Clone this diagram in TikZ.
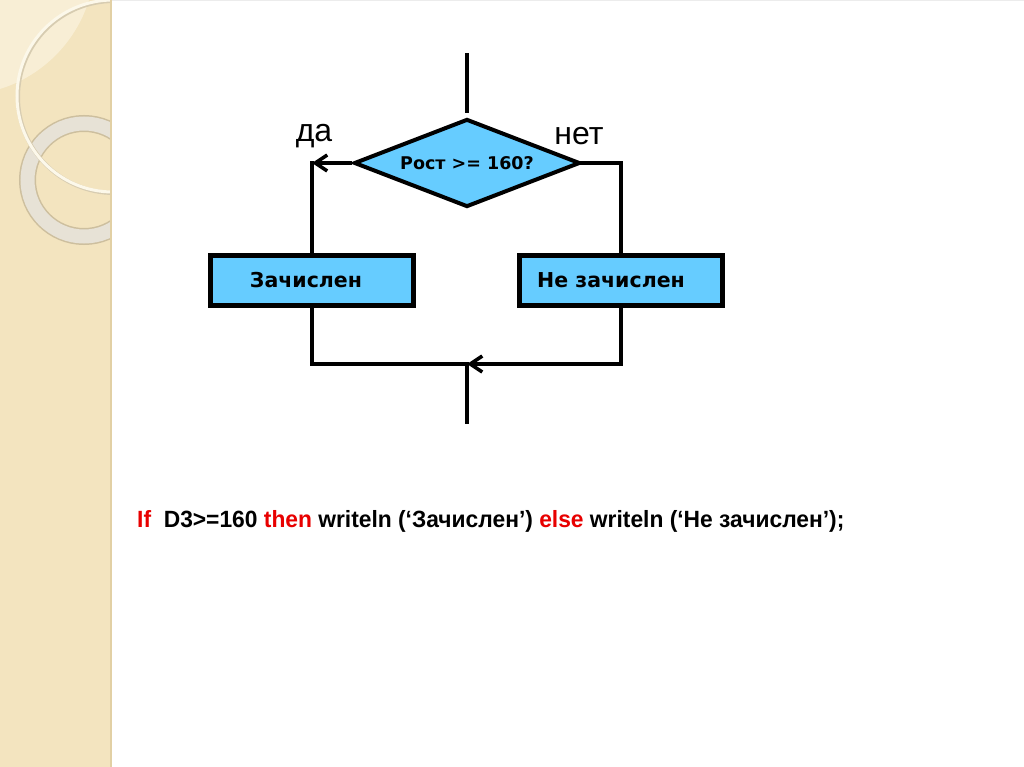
\documentclass[tikz,border=0pt]{standalone}
\usepackage{fontspec}
\setmainfont{Liberation Sans}
\newfontfamily\boxfont{DejaVu Sans}
\newfontfamily\codefont[FakeStretch=0.97]{Liberation Sans}
\usetikzlibrary{shapes.geometric,arrows.meta}
\definecolor{boxblue}{HTML}{66CCFF}
\definecolor{strip}{HTML}{F3E4BF}
\definecolor{stripedge}{HTML}{E2D0A4}
\definecolor{lens}{HTML}{F8EED5}
\definecolor{ringgray}{HTML}{E7E2D6}
\definecolor{ringedge}{HTML}{CDBF9E}
\definecolor{ringwhite}{HTML}{FCF8EA}
\definecolor{kwred}{HTML}{E80000}
\tikzset{
  flowline/.style={line width=3.6pt, line cap=rect},
  flowarrow/.style={line width=3.6pt, -{Straight Barb[length=12pt,width=16pt]}},
  actbox/.style={draw, line width=5pt, fill=boxblue, rectangle, minimum width=203pt, minimum height=50pt,
    font=\boxfont\bfseries\fontsize{20.5}{24}\selectfont},
  condbox/.style={draw, line width=4pt, fill=boxblue, diamond, aspect=2.6, minimum width=226pt, minimum height=88pt,
    inner sep=0pt, font=\boxfont\bfseries\fontsize{17.5}{20}\selectfont},
  yesno/.style={font=\fontsize{32}{36}\selectfont}
}
\begin{document}
\begin{tikzpicture}[x=1pt,y=-1pt]
\useasboundingbox (0,0) rectangle (1024,767);
% slide background
\fill[white] (0,0) rectangle (1024,767);
\begin{scope}
\clip (0,0) rectangle (111,767);
\fill[strip] (0,0) rectangle (111,767);
\fill[lens] (-40,-40) circle (135);
\draw[ringedge, line width=17pt] (84,180) circle (56.5);
\draw[ringgray, line width=14pt] (84,180) circle (56.5);
\draw[ringedge!80, line width=4pt] (114,97) circle (96);
\draw[ringwhite, line width=3pt] (113,96) circle (96);
\end{scope}
\draw[stripedge, line width=2pt] (111,0) -- (111,767);
\draw[gray!15, line width=1pt] (112,0.5) -- (1024,0.5);
% flowchart
\node[condbox] (cond) at (467,163) {Рост >= 160?};
\node[actbox] (yes) at (312,280.5) {Зачислен\kern12pt};
\node[actbox] (no) at (621,280.5) {Не зачислен\kern20pt};
\coordinate (start) at (467,55);
\coordinate (yesc) at (312,163);
\coordinate (noc) at (621,163);
\coordinate (join) at (467,364);
\coordinate (stop) at (467,422);
\node[yesno] (yeslbl) at (314,136) {да};
\node[yesno] (nolbl) at (579,136) {нет};
\draw[flowline, shorten >=6pt] (start) -- (cond.north);
\draw[flowarrow] (cond.west) -- (yesc);
\draw[flowline] (yesc) -- (yes.north);
\draw[flowline] (cond.east) -- (noc) -- (no.north);
\draw[flowline] (yes.south) |- (join);
\draw[flowarrow] (no.south) |- (join);
\draw[flowline] (join) -- (stop);
% code line
\node[anchor=base west, inner sep=0pt, font=\codefont\bfseries\fontsize{23.5}{28}\selectfont] (code) at (137,527)
  {\textcolor{kwred}{If}\ \ D3>=160 \textcolor{kwred}{then} writeln (‘Зачислен’) \textcolor{kwred}{else} writeln (‘Не зачислен’);};
\end{tikzpicture}
\end{document}
